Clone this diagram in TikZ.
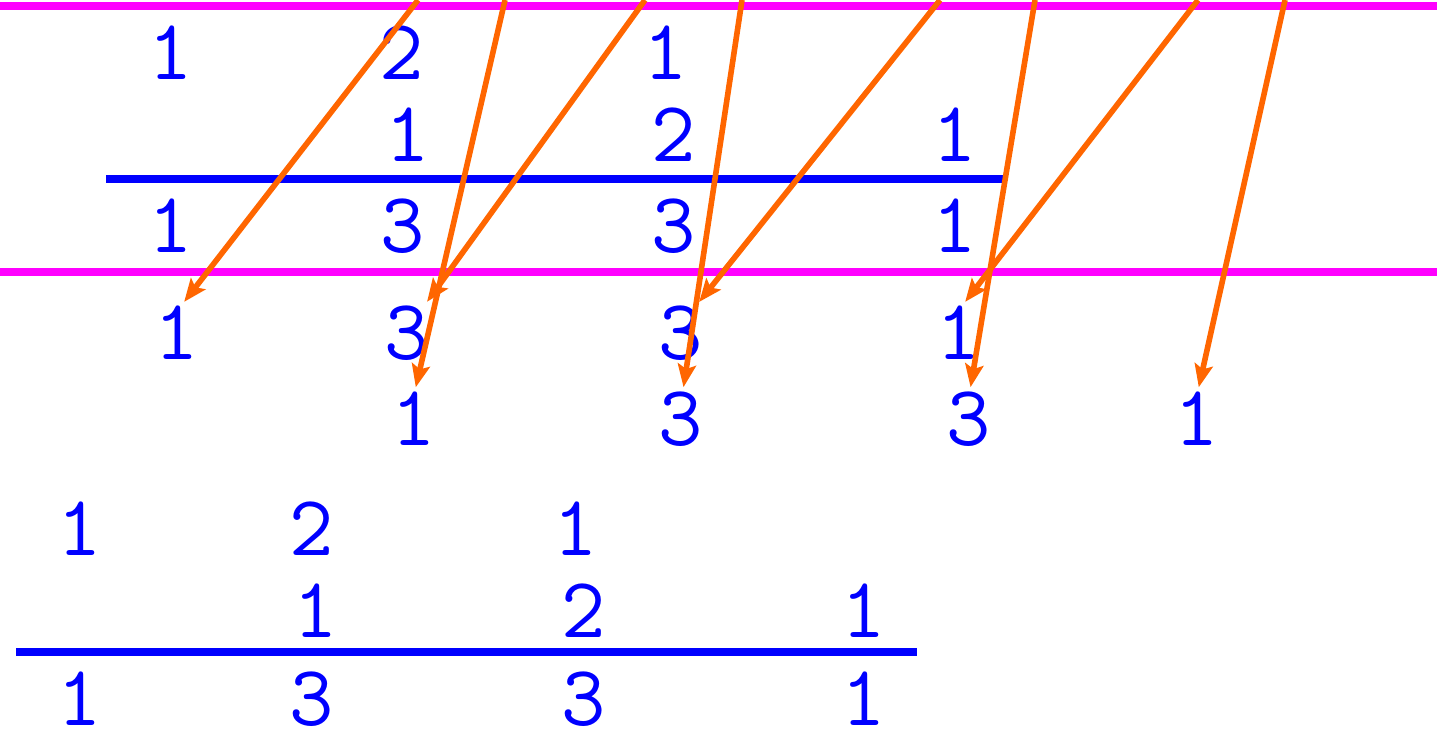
\documentclass[tikz,border=0pt]{standalone}
\usetikzlibrary{arrows.meta}
\definecolor{arrorange}{RGB}{255,102,0}
\definecolor{bandpink}{RGB}{255,0,255}
\definecolor{digblue}{RGB}{0,0,255}

\begin{document}
\begin{tikzpicture}[
    digit/.style={text=digblue, font=\ttfamily\fontsize{24.5}{28}\selectfont, inner sep=0pt, anchor=base},
    sumrule/.style={digblue, line width=2.3pt},
    band/.style={bandpink, line width=2.1pt},
    shiftarr/.style={arrorange, line width=1.6pt, -{Stealth[length=6.5pt,width=5.2pt,inset=1.3pt]}, shorten >=1pt}]
    \useasboundingbox (0,0) rectangle (14.37,-7.36);
    \draw[band] (0,-0.06) -- (14.37,-0.06);
    \draw[band] (0,-2.72) -- (14.37,-2.72);
    % upper sum
    \foreach \x/\d [count=\i] in {1.71/1,4.02/2,6.66/1}
      \node[digit] (a1\i) at (\x,-0.79) {\d};
    \foreach \x/\d [count=\i] in {4.08/1,6.74/2,9.55/1}
      \node[digit] (a2\i) at (\x,-1.61) {\d};
    \draw[sumrule] (1.06,-1.79) -- (10.03,-1.79);
    \foreach \x/\d [count=\i] in {1.71/1,4.03/3,6.74/3,9.55/1}
      \node[digit] (a3\i) at (\x,-2.52) {\d};
    % shifted rows
    \foreach \x/\d [count=\i] in {1.77/1,4.07/3,6.81/3,9.59/1}
      \node[digit] (r4\i) at (\x,-3.59) {\d};
    \foreach \x/\d [count=\i] in {4.14/1,6.81/3,9.69/3,11.97/1}
      \node[digit] (r5\i) at (\x,-4.45) {\d};
    % lower sum
    \foreach \x/\d [count=\i] in {0.80/1,3.12/2,5.76/1}
      \node[digit] (b1\i) at (\x,-5.55) {\d};
    \foreach \x/\d [count=\i] in {3.16/1,5.84/2,8.64/1}
      \node[digit] (b2\i) at (\x,-6.37) {\d};
    \draw[sumrule] (0.16,-6.52) -- (9.17,-6.52);
    \foreach \x/\d [count=\i] in {0.80/1,3.12/3,5.84/3,8.64/1}
      \node[digit] (b3\i) at (\x,-7.25) {\d};
    % arrows
    \foreach \x [count=\i] in {4.18,5.05,6.45,7.42,9.40,10.35,11.98,12.85}
      \coordinate (s\i) at (\x,0);
    \draw[shiftarr] (s1) -- ([xshift=.05cm]r41.north);
    \draw[shiftarr] (s2) -- ([xshift=.01cm]r51.north);
    \draw[shiftarr] (s3) -- ([xshift=.18cm]r42.north);
    \draw[shiftarr] (s4) -- ([xshift=.02cm]r52.north);
    \draw[shiftarr] (s5) -- ([xshift=.16cm]r43.north);
    \draw[shiftarr] (s6) -- ([xshift=.01cm]r53.north);
    \draw[shiftarr] (s7) -- ([xshift=.04cm]r44.north);
    \draw[shiftarr] (s8) -- ([xshift=.01cm]r54.north);
\end{tikzpicture}
\end{document}
